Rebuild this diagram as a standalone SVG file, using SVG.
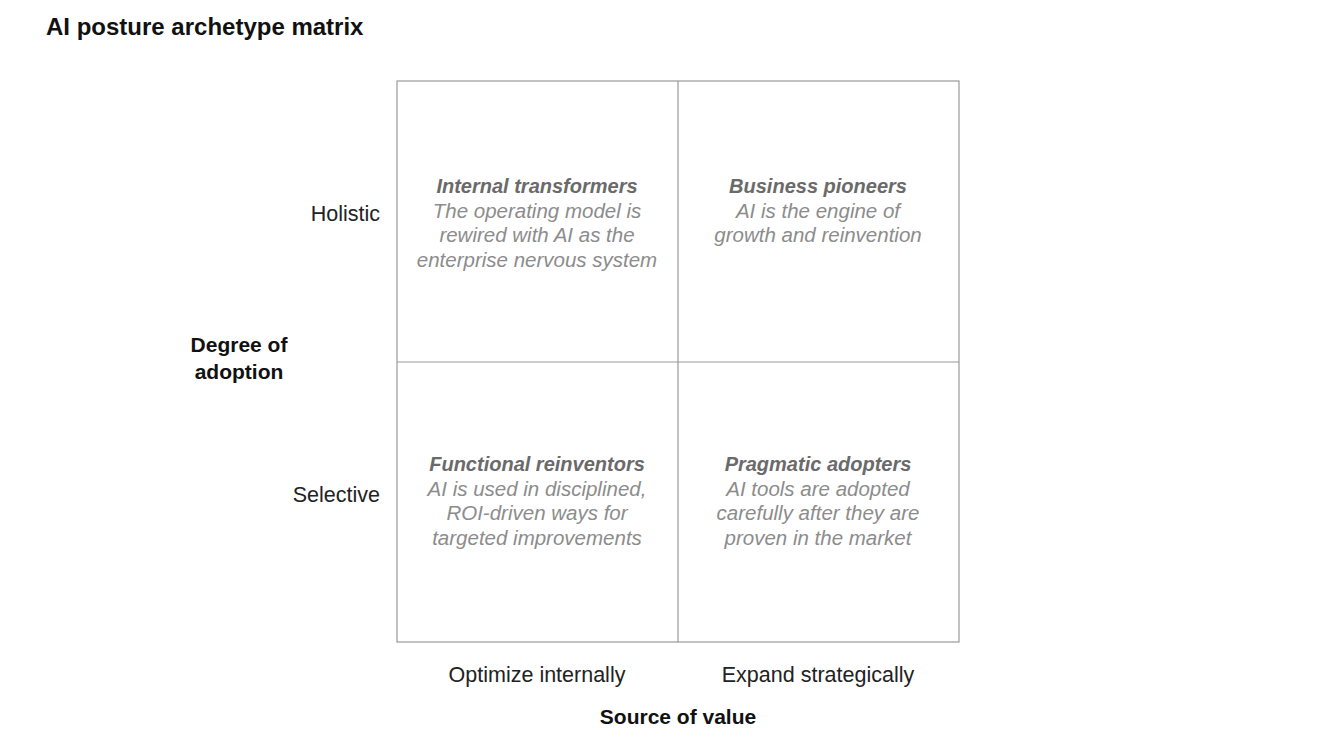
<svg xmlns="http://www.w3.org/2000/svg" width="1324" height="742" viewBox="0 0 1324 742">
<style>
text{font-family:"Liberation Sans",Arial,sans-serif}
.title{font-size:24px;font-weight:bold;fill:#111}
.lab{font-size:21.5px;fill:#222}
.axis{font-size:21px;font-weight:bold;fill:#111}
.qt{font-size:20px;font-weight:bold;font-style:italic;fill:#6a6a6a;text-anchor:middle}
.qb{font-size:20.5px;font-style:italic;fill:#8c8c8c;text-anchor:middle}
.grid{fill:none;stroke:#9a9a9a;stroke-width:1.2}
</style>
<rect width="1324" height="742" fill="#fff"/>
<text class="title" x="46" y="35">AI posture archetype matrix</text>
<g id="connectors">
<rect class="grid" x="397" y="81" width="562" height="561"/>
<line class="grid" x1="678" y1="81" x2="678" y2="642"/>
<line class="grid" x1="397" y1="362" x2="959" y2="362"/>
</g>
<g id="q-internal-transformers">
<text class="qt" x="537" y="193">Internal transformers</text>
<text class="qb" x="537" y="218">The operating model is</text>
<text class="qb" x="537" y="242">rewired with AI as the</text>
<text class="qb" x="537" y="267">enterprise nervous system</text>
</g>
<g id="q-business-pioneers">
<text class="qt" x="818" y="193">Business pioneers</text>
<text class="qb" x="818" y="218">AI is the engine of</text>
<text class="qb" x="818" y="242">growth and reinvention</text>
</g>
<g id="q-functional-reinventors">
<text class="qt" x="537" y="471">Functional reinventors</text>
<text class="qb" x="537" y="496">AI is used in disciplined,</text>
<text class="qb" x="537" y="520">ROI-driven ways for</text>
<text class="qb" x="537" y="545">targeted improvements</text>
</g>
<g id="q-pragmatic-adopters">
<text class="qt" x="818" y="471">Pragmatic adopters</text>
<text class="qb" x="818" y="496">AI tools are adopted</text>
<text class="qb" x="818" y="520">carefully after they are</text>
<text class="qb" x="818" y="545">proven in the market</text>
</g>
<g id="row-labels">
<text class="lab" x="380" y="221" text-anchor="end">Holistic</text>
<text class="lab" x="380" y="502" text-anchor="end">Selective</text>
</g>
<g id="y-axis-title">
<text class="axis" x="239" y="352" text-anchor="middle">Degree of</text>
<text class="axis" x="239" y="379" text-anchor="middle">adoption</text>
</g>
<g id="col-labels">
<text class="lab" x="537" y="682" text-anchor="middle">Optimize internally</text>
<text class="lab" x="818" y="682" text-anchor="middle">Expand strategically</text>
</g>
<g id="x-axis-title">
<text class="axis" x="678" y="724" text-anchor="middle">Source of value</text>
</g>
</svg>
